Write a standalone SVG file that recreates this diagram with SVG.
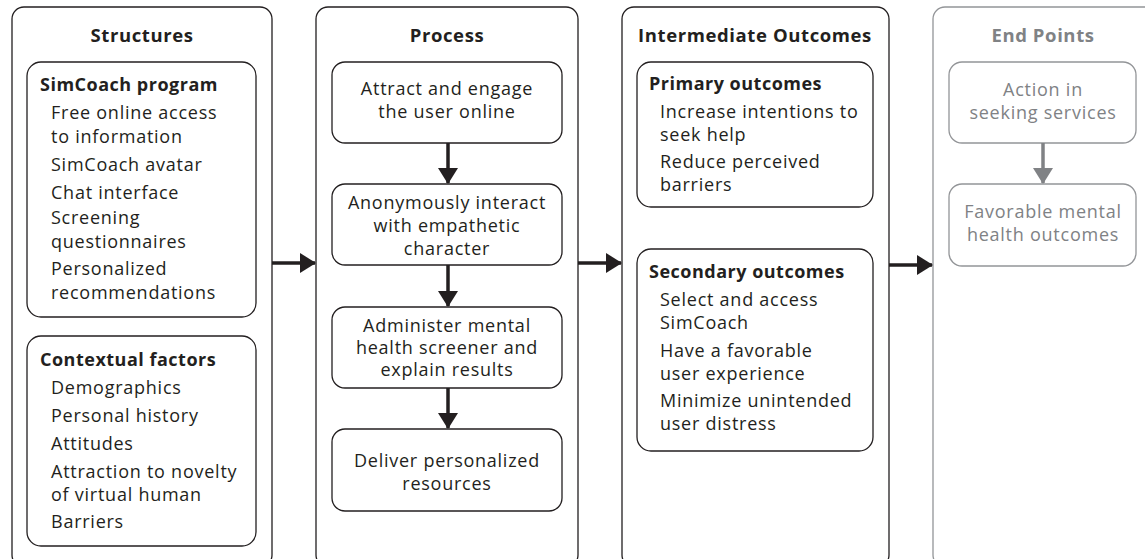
<svg xmlns="http://www.w3.org/2000/svg" width="1145" height="559" viewBox="0 0 1145 559">
<defs>
<marker id="ah" markerUnits="userSpaceOnUse" markerWidth="16" markerHeight="20" refX="15" refY="10" orient="auto"><path d="M0,0 L16,10 L0,20 Z" fill="#231f20"/></marker>
<marker id="ahg" markerUnits="userSpaceOnUse" markerWidth="16" markerHeight="20" refX="15" refY="10" orient="auto"><path d="M0,0 L16,10 L0,20 Z" fill="#808285"/></marker>
</defs>
<style>
.box{fill:#fff;stroke:#231f20;stroke-width:1.3}
.gbox{fill:#fff;stroke:#939598;stroke-width:1.3}
text{font-family:"Open Sans","Liberation Sans",sans-serif;font-size:18px;letter-spacing:0.75px;fill:#231f20}
.h{font-weight:bold;font-size:18.5px;letter-spacing:0.6px}
.s{font-weight:bold;font-size:18px;letter-spacing:0.5px}
.c{text-anchor:middle}
.g{fill:#808285}
.con{stroke:#231f20;stroke-width:3.5;fill:none}
.gcon{stroke:#808285;stroke-width:3.5;fill:none}
</style>
<rect width="1145" height="559" fill="#fff"/>
<g id="structures">
<rect class="box" x="12" y="7" width="260" height="560" rx="12"/>
<text class="h c" x="142" y="42">Structures</text>
<g id="simcoach-program">
<rect class="box" x="27" y="62" width="229" height="255" rx="14"/>
<text class="s" x="40" y="91">SimCoach program</text>
<text x="51" y="119">Free online access</text>
<text x="51" y="143">to information</text>
<text x="51" y="171">SimCoach avatar</text>
<text x="51" y="199">Chat interface</text>
<text x="51" y="224">Screening</text>
<text x="51" y="248">questionnaires</text>
<text x="51" y="275">Personalized</text>
<text x="51" y="299">recommendations</text>
</g>
<g id="contextual-factors">
<rect class="box" x="27" y="336" width="229" height="210" rx="14"/>
<text class="s" x="40" y="366">Contextual factors</text>
<text x="51" y="394">Demographics</text>
<text x="51" y="422">Personal history</text>
<text x="51" y="450">Attitudes</text>
<text x="51" y="478">Attraction to novelty</text>
<text x="51" y="501">of virtual human</text>
<text x="51" y="528">Barriers</text>
</g>
</g>
<g id="process">
<rect class="box" x="316" y="7" width="262" height="560" rx="12"/>
<text class="h c" x="447" y="42">Process</text>
<g id="p1"><rect class="box" x="332" y="62" width="230" height="81" rx="13"/>
<text class="c" x="447" y="95">Attract and engage</text>
<text class="c" x="447" y="118">the user online</text></g>
<g id="p2"><rect class="box" x="332" y="184" width="230" height="81" rx="13"/>
<text class="c" x="447" y="209">Anonymously interact</text>
<text class="c" x="447" y="232">with empathetic</text>
<text class="c" x="447" y="255">character</text></g>
<g id="p3"><rect class="box" x="332" y="307" width="230" height="81" rx="13"/>
<text class="c" x="447" y="332">Administer mental</text>
<text class="c" x="447" y="354">health screener and</text>
<text class="c" x="447" y="376">explain results</text></g>
<g id="p4"><rect class="box" x="332" y="429" width="230" height="82" rx="13"/>
<text class="c" x="447" y="467">Deliver personalized</text>
<text class="c" x="447" y="490">resources</text></g>
</g>
<g id="intermediate-outcomes">
<rect class="box" x="622" y="7" width="267" height="560" rx="12"/>
<text class="h c" x="755" y="42">Intermediate Outcomes</text>
<g id="primary">
<rect class="box" x="637" y="62" width="236" height="145" rx="14"/>
<text class="s" x="649" y="90">Primary outcomes</text>
<text x="660" y="118">Increase intentions to</text>
<text x="660" y="141">seek help</text>
<text x="660" y="168">Reduce perceived</text>
<text x="660" y="191">barriers</text>
</g>
<g id="secondary">
<rect class="box" x="637" y="249" width="236" height="202" rx="14"/>
<text class="s" x="649" y="278">Secondary outcomes</text>
<text x="660" y="306">Select and access</text>
<text x="660" y="329">SimCoach</text>
<text x="660" y="357">Have a favorable</text>
<text x="660" y="380">user experience</text>
<text x="660" y="407">Minimize unintended</text>
<text x="660" y="430">user distress</text>
</g>
</g>
<g id="end-points">
<rect class="gbox" x="933" y="7" width="240" height="560" rx="12"/>
<text class="h c g" x="1043" y="42">End Points</text>
<g id="e1"><rect class="gbox" x="949" y="62" width="187" height="81" rx="13"/>
<text class="c g" x="1043" y="96">Action in</text>
<text class="c g" x="1043" y="119">seeking services</text></g>
<g id="e2"><rect class="gbox" x="949" y="184" width="187" height="82" rx="13"/>
<text class="c g" x="1043" y="218">Favorable mental</text>
<text class="c g" x="1043" y="241">health outcomes</text></g>
</g>
<g id="connectors">
<line class="con" x1="272" y1="263" x2="315" y2="263" marker-end="url(#ah)"/>
<line class="con" x1="578" y1="263" x2="621" y2="263" marker-end="url(#ah)"/>
<line class="con" x1="889" y1="265" x2="932" y2="265" marker-end="url(#ah)"/>
<line class="con" x1="448" y1="143" x2="448" y2="183" marker-end="url(#ah)"/>
<line class="con" x1="448" y1="265" x2="448" y2="306" marker-end="url(#ah)"/>
<line class="con" x1="448" y1="388" x2="448" y2="428" marker-end="url(#ah)"/>
<line class="gcon" x1="1043" y1="143" x2="1043" y2="183" marker-end="url(#ahg)"/>
</g>
</svg>
